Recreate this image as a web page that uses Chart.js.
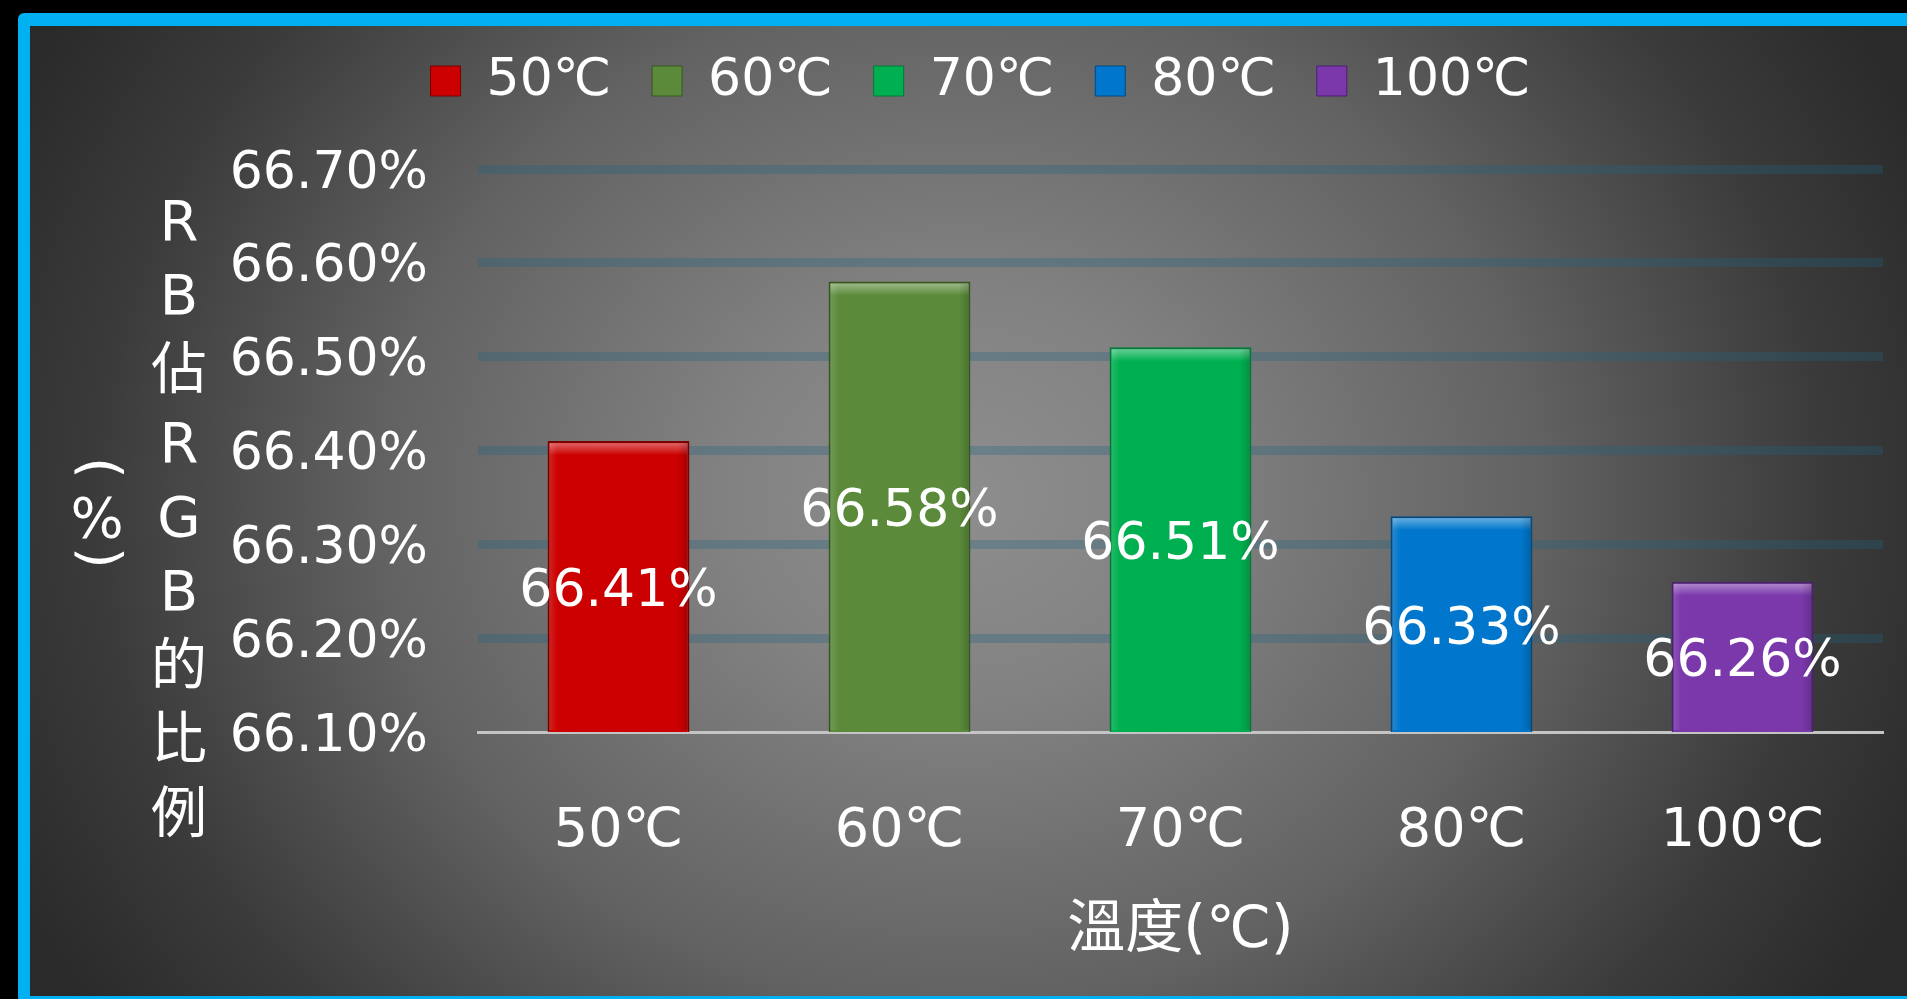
<!DOCTYPE html>
<html lang="zh-Hant">
<head>
<meta charset="utf-8">
<title>溫度與 RB 佔 RGB 的比例</title>
<script src="https://cdn.jsdelivr.net/npm/chart.js@4.4.1/dist/chart.umd.min.js"></script>
<style>
    html, body { margin: 0; padding: 0; background: #000; overflow: hidden; }
    body { width: 1907px; height: 999px; position: relative; }
    .frame {
        position: absolute;
        left: 18px;
        top: 13px;
        width: 1900px;
        height: 970px;
        border: 12px solid #00b0f0;
        border-top-width: 13px;
        border-radius: 6px;
        background: radial-gradient(ellipse 1050px 920px at 930px 470px,
            #8e8e8e 0%, #828282 22%, #626262 55%, #3b3b3b 82%, #2a2a2a 100%);
    }
    .chart-box { position: absolute; left: 0; top: 0; width: 1907px; height: 999px; }
</style>
</head>
<body>
<div class="frame"></div>
<div class="chart-box"><canvas id="ratioChart"></canvas></div>

<script>
// Temperatures and RB/RGB ratio (%)
const categories = ['50℃', '60℃', '70℃', '80℃', '100℃'];
const ratios = [66.41, 66.58, 66.51, 66.33, 66.26];
const barColors = ['#cc0000', '#5b8b3a', '#00b050', '#0077cc', '#7a38ab'];
const edgeColors = ['#7a0000', '#36581f', '#007a38', '#004a84', '#4c1f72'];
const yTicks = [66.10, 66.20, 66.30, 66.40, 66.50, 66.60, 66.70];
const yTitle = 'RB佔RGB的比例';
const yUnit = '(%)';
const xTitle = '溫度(℃)';

const FONT = "'DejaVu Sans', 'Noto Sans CJK TC', sans-serif";

Chart.defaults.font.family = FONT;
Chart.defaults.color = '#ffffff';

// push the plot area down below the legend
const legendGap = {
    id: 'legendGap',
    beforeInit(chart) {
        const fit = chart.legend.fit;
        chart.legend.fit = function () {
            fit.call(this);
            this.height += 52;
        };
    }
};

// stacked y title: one column of characters, unit column to its left
const verticalTitle = {
    id: 'verticalTitle',
    afterDraw(chart) {
        const ctx = chart.ctx;
        const { left, top } = chart.chartArea;
        ctx.save();
        ctx.fillStyle = '#ffffff';
        ctx.font = '56px ' + FONT;
        ctx.textAlign = 'center';
        ctx.textBaseline = 'middle';

        const colX = left - 299;
        Array.from(yTitle).forEach((ch, i) => {
            ctx.fillText(ch, colX, top + 56 + i * 74);
        });

        ctx.font = '56px ' + FONT;
        const unitX = left - 381;
        const unitY = [top + 299, top + 353, top + 389];
        Array.from(yUnit).forEach((ch, i) => {
            ctx.save();
            ctx.translate(unitX, unitY[i]);
            if (ch === '(' || ch === ')') ctx.rotate(Math.PI / 2);
            ctx.fillText(ch, 0, 0);
            ctx.restore();
        });
        ctx.restore();
    }
};

// bevel highlight on each bar plus the value label in the middle
const barLabels = {
    id: 'barLabels',
    afterDatasetsDraw(chart) {
        const ctx = chart.ctx;
        const bottom = chart.chartArea.bottom;
        const meta = chart.getDatasetMeta(0);
        ctx.save();
        meta.data.forEach(bar => {
            const p = bar.getProps(['x', 'y', 'base', 'width'], true);
            const base = Math.min(p.base, bottom);
            const left = p.x - p.width / 2;
            const h = base - p.y - 4;

            const shine = ctx.createLinearGradient(0, p.y, 0, p.y + 14);
            shine.addColorStop(0, 'rgba(255,255,255,0.45)');
            shine.addColorStop(1, 'rgba(255,255,255,0)');
            ctx.fillStyle = shine;
            ctx.fillRect(left + 2, p.y + 2, p.width - 4, 14);

            const side = ctx.createLinearGradient(left, 0, left + 10, 0);
            side.addColorStop(0, 'rgba(255,255,255,0.16)');
            side.addColorStop(1, 'rgba(255,255,255,0)');
            ctx.fillStyle = side;
            ctx.fillRect(left + 2, p.y + 2, 10, h);

            const sideR = ctx.createLinearGradient(left + p.width - 12, 0, left + p.width - 2, 0);
            sideR.addColorStop(0, 'rgba(0,0,0,0)');
            sideR.addColorStop(1, 'rgba(0,0,0,0.16)');
            ctx.fillStyle = sideR;
            ctx.fillRect(left + p.width - 12, p.y + 2, 10, h);
        });

        ctx.fillStyle = '#ffffff';
        ctx.font = '52px ' + FONT;
        ctx.textAlign = 'center';
        ctx.textBaseline = 'middle';
        meta.data.forEach((bar, i) => {
            const p = bar.getProps(['x', 'y', 'base'], true);
            const base = Math.min(p.base, bottom);
            ctx.fillText(ratios[i].toFixed(2) + '%', p.x, (p.y + base) / 2 + 6);
        });
        ctx.restore();
    }
};

const ctx = document.getElementById('ratioChart').getContext('2d');
new Chart(ctx, {
    type: 'bar',
    data: {
        labels: categories,
        datasets: [{
            label: 'RB/RGB',
            data: ratios,
            backgroundColor: barColors,
            borderColor: edgeColors,
            borderWidth: 2,
            borderSkipped: false,
            categoryPercentage: 1,
            barPercentage: 0.505
        }]
    },
    options: {
        responsive: true,
        maintainAspectRatio: false,
        animation: false,
        layout: {
            padding: { top: 14, right: 24, bottom: 0, left: 78 }
        },
        plugins: {
            tooltip: { enabled: false },
            legend: {
                position: 'top',
                onClick: null,
                labels: {
                    color: '#ffffff',
                    font: { size: 52 },
                    boxWidth: 30,
                    boxHeight: 30,
                    padding: 41,
                    generateLabels: () => categories.map((c, i) => ({
                        text: c,
                        fillStyle: barColors[i],
                        strokeStyle: edgeColors[i],
                        lineWidth: 1,
                        fontColor: '#ffffff',
                        hidden: false,
                        index: i
                    }))
                }
            }
        },
        scales: {
            x: {
                grid: { display: false },
                border: { display: true, color: '#c4c4c4', width: 3 },
                ticks: {
                    color: '#ffffff',
                    font: { size: 54 },
                    padding: 60
                },
                title: {
                    display: true,
                    text: xTitle,
                    color: '#ffffff',
                    font: { size: 58 },
                    padding: { top: 0, bottom: 32 }
                },
                afterFit(scale) {
                    scale.height = 267;
                }
            },
            y: {
                min: yTicks[0],
                max: yTicks[yTicks.length - 1],
                border: { display: false },
                grid: {
                    drawTicks: false,
                    lineWidth: 9,
                    color: c => (c.tick && Math.abs(c.tick.value - yTicks[0]) < 1e-6)
                        ? 'rgba(0,0,0,0)'
                        : 'rgba(30,100,130,0.3)'
                },
                ticks: {
                    color: '#ffffff',
                    font: { size: 52 },
                    padding: 50,
                    labelOffset: 5,
                    callback: v => Number(v).toFixed(2) + '%'
                },
                afterBuildTicks(scale) {
                    scale.ticks = yTicks.map(v => ({ value: v }));
                },
                afterFit(scale) {
                    scale.width = 400;
                }
            }
        }
    },
    plugins: [legendGap, verticalTitle, barLabels]
});
</script>
</body>
</html>
